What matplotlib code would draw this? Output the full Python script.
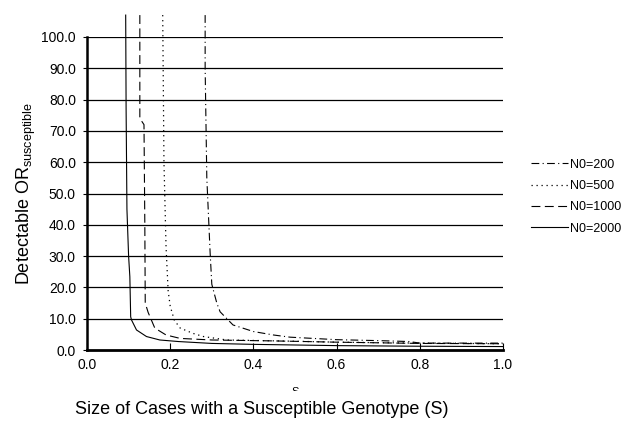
import matplotlib.pyplot as plt
from matplotlib.transforms import Bbox

plt.rcParams['font.family'] = ['Liberation Sans', 'DejaVu Sans']
plt.rcParams['mathtext.fontset'] = 'custom'
plt.rcParams['mathtext.rm'] = 'Liberation Sans'

# curves: S (x) against detectable OR (y)
s_2000 = [0.093, 0.094, 0.096, 0.100, 0.103, 0.105, 0.107, 0.119, 0.143, 0.175, 0.22, 0.30, 0.40, 0.60, 0.80, 1.00]
or_2000 = [107, 77, 45, 30, 23.4, 10.6, 9.6, 6.4, 4.3, 3.2, 2.7, 2.1, 1.8, 1.4, 1.2, 1.1]

s_1000 = [0.127, 0.127, 0.132, 0.137, 0.139, 0.140, 0.147, 0.163, 0.19, 0.224, 0.30, 0.45, 0.60, 0.80, 1.00]
or_1000 = [107, 74, 73, 72, 40, 15, 12, 7, 4.8, 3.7, 3.2, 2.9, 2.5, 2.1, 2.0]

s_500 = [0.182, 0.185, 0.19, 0.195, 0.20, 0.21, 0.224, 0.255, 0.28, 0.336, 0.42, 0.50, 0.60, 0.80, 1.00]
or_500 = [107, 60, 33, 19, 14, 9.5, 7, 5.3, 4.3, 3.2, 3.0, 2.8, 2.5, 2.2, 2.0]

s_200 = [0.284, 0.284, 0.288, 0.296, 0.300, 0.312, 0.32, 0.351, 0.40, 0.448, 0.488, 0.60, 0.70, 0.775, 0.80, 1.00]
or_200 = [107, 90, 55, 31, 21, 15, 12.2, 8, 5.9, 4.8, 4.1, 3.3, 3.0, 2.7, 2.2, 2.2]

x_ticks = [0.0, 0.2, 0.4, 0.6, 0.8, 1.0]
y_ticks = [0, 10, 20, 30, 40, 50, 60, 70, 80, 90, 100]

fig = plt.figure(figsize=(6.33, 4.22), dpi=100)
ax = fig.add_axes([87 / 633, 72 / 422, 416 / 633, 313 / 422])

for y in y_ticks[1:]:
    ax.axhline(y, color='black', lw=0.9, zorder=1)

ax.plot(s_200, or_200, color='black', lw=0.8, ls=(0, (7, 3, 1, 3)), clip_on=False, label='N0=200')
ax.plot(s_500, or_500, color='black', lw=0.9, ls=(0, (1, 3)), clip_on=False, label='N0=500')
ax.plot(s_1000, or_1000, color='black', lw=0.8, ls=(0, (8, 4)), clip_on=False, label='N0=1000')
ax.plot(s_2000, or_2000, color='black', lw=0.8, clip_on=False, label='N0=2000')

ax.set_xlim(0, 1)
ax.set_ylim(0, 100)
ax.set_xticks(x_ticks)
ax.set_xticklabels(['%.1f' % v for v in x_ticks], fontsize=10)
ax.set_yticks(y_ticks)
ax.set_yticklabels(['%.1f' % v for v in y_ticks], fontsize=10)
ax.tick_params(axis='x', direction='in', length=5, width=0.8, pad=6)
ax.tick_params(axis='y', direction='out', length=3, width=0.8, pad=5)
for side in ['top', 'right']:
    ax.spines[side].set_visible(False)
ax.spines['left'].set_linewidth(1.8)
ax.spines['bottom'].set_linewidth(2.0)

ax.set_ylabel('Detectable OR$_{\\mathrm{susceptible}}$', fontsize=13, labelpad=2)

# the small "S" axis title is mostly hidden under the main caption
t = fig.text(295 / 633, 1 - 392 / 422, 'S', fontsize=8, ha='center', va='center')
t.set_clip_box(Bbox([[0, 422 - 391], [633, 422]]))
t.set_clip_on(True)
fig.text(262 / 633, 1 - 410 / 422, 'Size of Cases with a Susceptible Genotype (S)',
         fontsize=13, ha='center', va='center')

ax.legend(loc='center left', bbox_to_anchor=(1.04, 0.49), frameon=False, fontsize=9,
          handlelength=3.0, handletextpad=0.1, labelspacing=0.75)

fig.savefig('out.png', dpi=100)
